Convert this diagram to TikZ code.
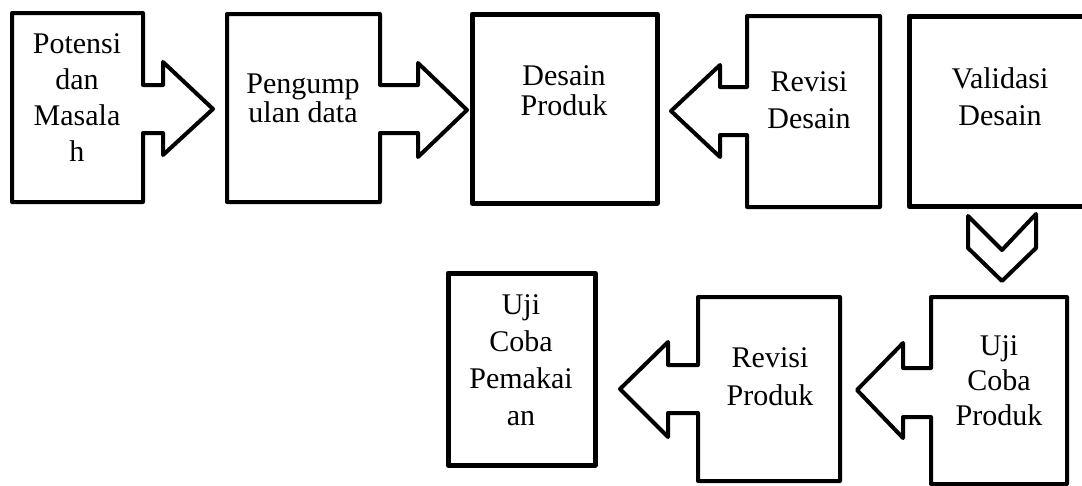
\documentclass[tikz,border=0pt]{standalone}
\usepackage{fontspec}
\setmainfont{Liberation Serif}
\begin{document}
\begin{tikzpicture}[x=1pt,y=-1pt,
  callout/.style={draw=black, line width=4pt, line join=round, fill=white},
  plainbox/.style={draw=black, line width=5pt, line join=round, fill=white},
  lbl/.style={align=center, inner sep=0pt, anchor=base, text=black},
  sk36/.style={font=\fontsize{30}{36}\selectfont},
  sk27/.style={font=\fontsize{30}{27}\selectfont},
  sk30/.style={font=\fontsize{30}{30}\selectfont},
  sk37/.style={font=\fontsize{30}{37}\selectfont},
  sk35/.style={font=\fontsize{30}{35}\selectfont},
  sk38/.style={font=\fontsize{30}{38}\selectfont}]
\useasboundingbox (0,0) rectangle (1082,485);
\fill[white] (0,0) rectangle (1082,485);
\clip (0,0) rectangle (1082,485);

% Potensi dan Masalah (right arrow callout)
\draw[callout] (12,13) -- (143,13) -- (143,85) -- (163,85) -- (163,62) -- (213,109)
  -- (163,155) -- (163,133) -- (143,133) -- (143,202) -- (12,202) -- cycle;
% Pengumpulan data (right arrow callout)
\draw[callout] (227,14) -- (380,14) -- (380,85) -- (418,85) -- (418,63) -- (467,110)
  -- (418,157) -- (418,133) -- (380,133) -- (380,202) -- (227,202) -- cycle;
% Desain Produk
\draw[plainbox] (472,14) rectangle (657,203);
% Revisi Desain (left arrow callout)
\draw[callout] (747,16) -- (880,16) -- (880,207) -- (747,207) -- (747,135) -- (720,135)
  -- (720,157) -- (671,111) -- (720,65) -- (720,87) -- (747,87) -- cycle;
% Validasi Desain
\draw[plainbox] (909,16) rectangle (1091,206);
% chevron (down arrow)
\draw[callout] (968,216) -- (1002,250) -- (1036,214) -- (1036,248) -- (1002,281)
  -- (968,248) -- cycle;
% Uji Coba Produk (left arrow callout)
\draw[callout] (931,297) -- (1067,297) -- (1067,484) -- (931,484) -- (931,417) -- (903,417)
  -- (903,438) -- (857,390) -- (903,343) -- (903,368) -- (931,368) -- cycle;
% Revisi Produk (left arrow callout)
\draw[callout] (698,297) -- (840,297) -- (840,481) -- (698,481) -- (698,413) -- (668,413)
  -- (668,437) -- (620,389) -- (668,342) -- (668,365) -- (698,365) -- cycle;
% Uji Coba Pemakaian
\draw[plainbox] (448,273) rectangle (595,465);

% labels (base anchor = baseline of the last line)
\node[lbl,sk36] (pot) at (77,161) {Potensi\\dan\\Masala\\h};
\node[lbl,sk27] (peng) at (303,122) {Pengump\\ulan data};
\node[lbl,sk30] (desp) at (564,115) {Desain\\Produk};
\node[lbl,sk37] (revd) at (809,128) {Revisi\\Desain};
\node[lbl,sk37] (vald) at (1000,125) {Validasi\\Desain};
\node[lbl,sk35] (ucp) at (999,425) {Uji\\Coba\\Produk};
\node[lbl,sk38] (revp) at (770,405) {Revisi\\Produk};
\node[lbl,sk37] (ucpm) at (521,425) {Uji\\Coba\\Pemakai\\an};
\end{tikzpicture}
\end{document}
